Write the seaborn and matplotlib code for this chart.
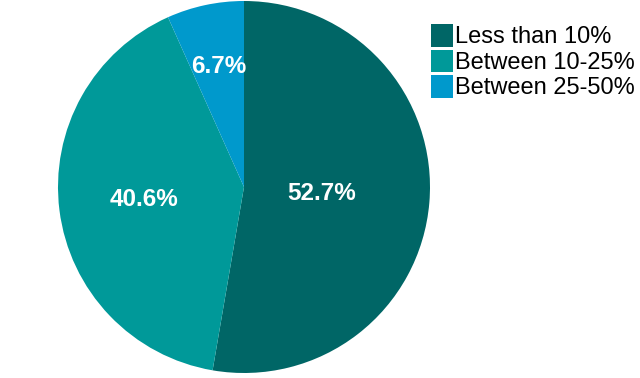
import matplotlib
matplotlib.use("Agg")
import matplotlib.pyplot as plt
import seaborn as sns
import numpy as np

# Share of respondents by band
categories = ["Less than 10%", "Between 10-25%", "Between 25-50%"]
shares = [52.7, 40.6, 6.7]
colors = ["#006666", "#009999", "#0099cc"]
label_dist = [0.42, 0.54, 0.66]

sns.set_style("white")
plt.rcParams['font.family'] = ['Liberation Sans', 'DejaVu Sans']

fig = plt.figure(figsize=(6.4, 3.78), dpi=100)
ax = fig.add_axes([58 / 640, 5 / 378, 372 / 640, 372 / 378])

wedges, texts, autotexts = ax.pie(
    shares, colors=colors, startangle=90, counterclock=False,
    autopct="%.1f%%", pctdistance=0.6, radius=1,
    wedgeprops=dict(linewidth=0),
    textprops=dict(color="white", fontsize=17.5, fontweight="bold"))

# move each percentage label to its own distance from the centre
for w, t, d in zip(wedges, autotexts, label_dist):
    ang = np.deg2rad((w.theta1 + w.theta2) / 2)
    t.set_position((d * np.cos(ang), d * np.sin(ang)))

ax.set_xlim(-1, 1)
ax.set_ylim(-1, 1)
ax.set_aspect("equal")

leg = fig.legend(wedges, categories, loc="upper left",
                 bbox_to_anchor=(431 / 640, 1 - 24 / 378),
                 frameon=False, fontsize=17, handlelength=0.95, handleheight=1.1,
                 handletextpad=0.08, labelspacing=0.05, borderaxespad=0, borderpad=0,
                 labelcolor="black")

fig.savefig("out.png", dpi=100)
